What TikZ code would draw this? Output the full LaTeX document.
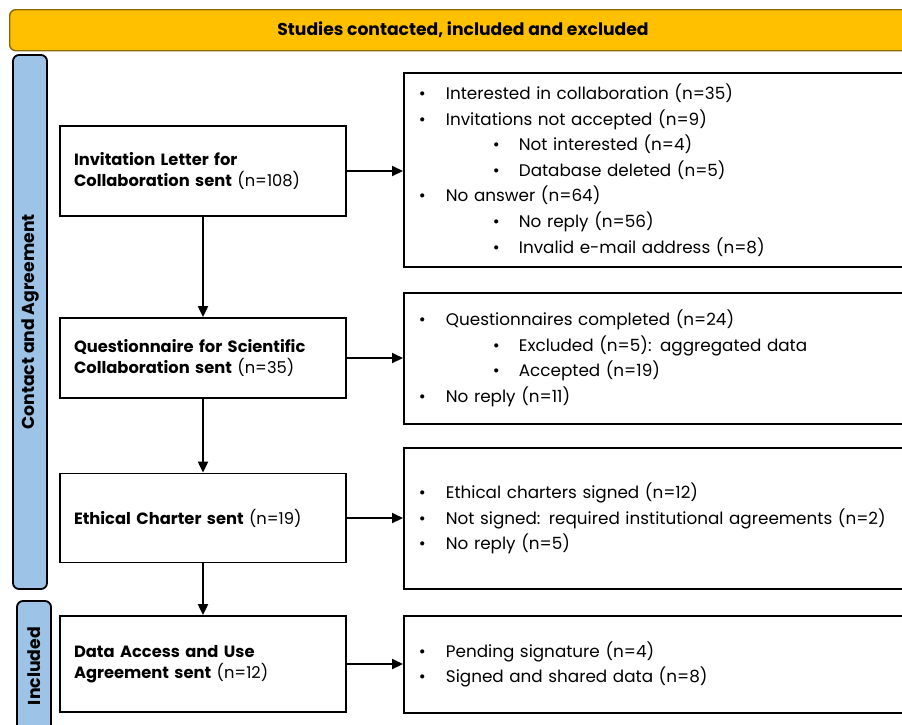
\documentclass[tikz,border=0pt]{standalone}
\usepackage{fontspec}
\setmainfont{Poppins}
\usetikzlibrary{arrows.meta}
\definecolor{banfill}{HTML}{FFC000}
\definecolor{banline}{HTML}{8C6A00}
\definecolor{barfill}{HTML}{9DC3E6}
\newcommand{\bl}[1]{\makebox[27pt][l]{\textbullet}#1}
\newcommand{\sbl}[1]{\hspace*{74pt}\makebox[26pt][l]{\textbullet}#1}
\begin{document}
\begin{tikzpicture}[x=1pt,y=-1pt,
  stagebox/.style={draw, line width=1.8pt, minimum width=286pt, minimum height=90pt,
    text width=258pt, align=left, inner xsep=14pt, inner ysep=0pt,
    font=\fontsize{16.3}{21}\selectfont},
  outbox/.style={draw, line width=1.8pt, anchor=west, text width=500pt, align=left,
    inner xsep=15pt, inner ysep=0pt, font=\fontsize{16.8}{25.6}\selectfont},
  bar/.style={draw=black, fill=barfill, line width=1.8pt, rounded corners=6pt},
  conn/.style={line width=2pt, -{Triangle[length=11pt,width=10pt]}}
]
\useasboundingbox (0,0) rectangle (902,724);
% banner
\node[draw=banline, fill=banfill, line width=1.4pt, rounded corners=6pt,
  minimum width=920pt, minimum height=41pt, anchor=north west, inner sep=0pt] (ban) at (9,9) {};
\node[font=\bfseries\fontsize{17.2}{20}\selectfont] (bantxt) at (463,30) {Studies contacted, included and excluded};
% side bars
\path[bar] (13,55) rectangle (47,589);
\node[rotate=90, font=\bfseries\fontsize{17.3}{20}\selectfont] (cap1) at (30,322) {Contact and Agreement};
\path[bar] (17,601) rectangle (51,745);
\node[rotate=90, font=\bfseries\fontsize{17.3}{20}\selectfont] (cap2) at (34,666) {Included};
% stage boxes
\node[stagebox] (b1) at (203,171) {\textbf{Invitation Letter for}\\\textbf{Collaboration sent} (n=108)};
\node[stagebox, minimum height=80pt] (b2) at (203,358) {\textbf{Questionnaire for Scientific}\\\textbf{Collaboration sent} (n=35)};
\node[stagebox, minimum height=89pt] (b3) at (203,518) {\textbf{Ethical Charter sent} (n=19)};
\node[stagebox, minimum height=96pt] (b4) at (203,664) {\textbf{Data Access and Use}\\\textbf{Agreement sent} (n=12)};
% outcome boxes
\node[outbox, minimum height=194pt] (r1) at (403,170) {%
\bl{Interested in collaboration (n=35)}\\
\bl{Invitations not accepted (n=9)}\\
\sbl{Not interested (n=4)}\\
\sbl{Database deleted (n=5)}\\
\bl{No answer (n=64)}\\
\sbl{No reply (n=56)}\\
\sbl{Invalid e-mail address (n=8)}};
\node[outbox, minimum height=131pt] (r2) at (403,358.5) {%
\bl{Questionnaires completed (n=24)}\\
\sbl{Excluded (n=5): aggregated data}\\
\sbl{Accepted (n=19)}\\
\bl{No reply (n=11)}};
\node[outbox, minimum height=141pt] (r3) at (403,518.5) {%
\bl{Ethical charters signed (n=12)}\\
\bl{Not signed: required institutional agreements (n=2)}\\
\bl{No reply (n=5)}};
\node[outbox, minimum height=97pt] (r4) at (403,664.5) {%
\bl{Pending signature (n=4)}\\
\bl{Signed and shared data (n=8)}};
% connectors
\draw[conn] (b1) -- (b1 -| r1.west);
\draw[conn] (b2) -- (b2 -| r2.west);
\draw[conn] (b3) -- (b3 -| r3.west);
\draw[conn] (b4) -- (b4 -| r4.west);
\draw[conn] (b1) -- (b2);
\draw[conn] (b2) -- (b3);
\draw[conn] (b3) -- (b4);
\end{tikzpicture}
\end{document}
